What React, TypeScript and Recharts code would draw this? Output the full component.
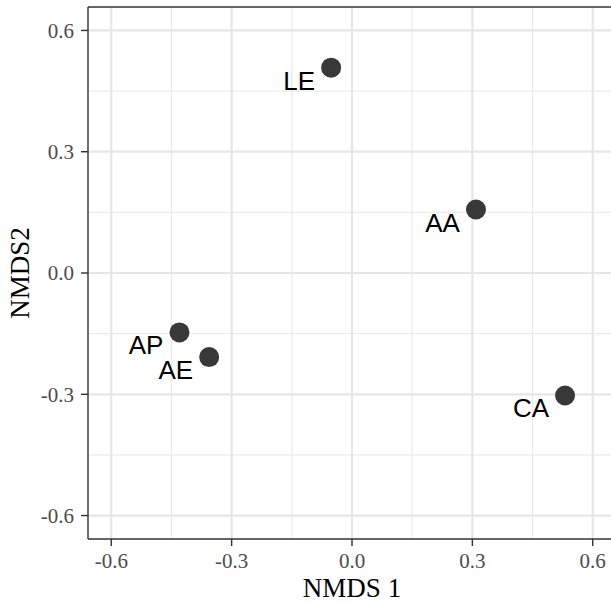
import React from 'react';
import { ScatterChart, Scatter, XAxis, YAxis, ReferenceLine } from 'recharts';

const sites = ['LE', 'AA', 'AP', 'AE', 'CA'];
const nmds1 = [-0.052, 0.309, -0.43, -0.356, 0.531];
const nmds2 = [0.508, 0.157, -0.147, -0.208, -0.303];
const xTicks = [-0.6, -0.3, 0, 0.3, 0.6];
const yTicks = [-0.6, -0.3, 0, 0.3, 0.6];
const minorBreaks = [-0.45, -0.15, 0.15, 0.45];
const limit = 0.658;

const data = sites.map((s, i) => ({ site: s, x: nmds1[i], y: nmds2[i] }));

const serif = '"Liberation Serif", "Times New Roman", serif';
const sans = '"Liberation Sans", Arial, sans-serif';

const PointShape = (props: any) => {
  const { cx, cy, payload } = props;
  return (
    <g>
      <circle cx={cx} cy={cy} r={10} fill="#383838" />
      <text x={cx - 16} y={cy + 22} textAnchor="end" fontFamily={sans} fontSize={26} fill="#000">
        {payload.site}
      </text>
    </g>
  );
};

const fmt = (v: number) => v.toFixed(1);

export default function App() {
  return (
    <div style={{ position: 'absolute', left: 0, top: 0, width: 611, height: 602, overflow: 'hidden', background: '#fff' }}>
      <ScatterChart width={611} height={602} margin={{ top: 7, right: -5, bottom: 0, left: 0 }} accessibilityLayer={false}>
        {minorBreaks.map((b) => (
          <ReferenceLine key={'vx' + b} x={b} stroke="#ececec" strokeWidth={1.3} />
        ))}
        {minorBreaks.map((b) => (
          <ReferenceLine key={'hy' + b} y={b} stroke="#ececec" strokeWidth={1.3} />
        ))}
        {xTicks.map((t) => (
          <ReferenceLine key={'mx' + t} x={t} stroke="#e6e6e6" strokeWidth={2.2} />
        ))}
        {yTicks.map((t) => (
          <ReferenceLine key={'my' + t} y={t} stroke="#e6e6e6" strokeWidth={2.2} />
        ))}
        <XAxis
          type="number"
          dataKey="x"
          domain={[-limit, limit]}
          allowDataOverflow
          ticks={xTicks}
          tickFormatter={fmt}
          height={63}
          axisLine={{ stroke: '#333', strokeWidth: 1.4 }}
          tickSize={7}
          tickMargin={7}
          tickLine={{ stroke: '#333', strokeWidth: 1.4 }}
          tick={{ fill: '#4d4d4d', fontSize: 21, fontFamily: serif }}
          label={{ value: 'NMDS 1', position: 'insideBottom', offset: 5, fill: '#000', fontSize: 27, fontFamily: serif }}
        />
        <YAxis
          type="number"
          dataKey="y"
          domain={[-limit, limit]}
          allowDataOverflow
          ticks={yTicks}
          tickFormatter={fmt}
          width={88}
          axisLine={{ stroke: '#333', strokeWidth: 1.4 }}
          tickSize={7}
          tickMargin={7}
          tickLine={{ stroke: '#333', strokeWidth: 1.4 }}
          tick={{ fill: '#4d4d4d', fontSize: 21, fontFamily: serif }}
          label={{
            content: (p: any) => {
              const vb = p.viewBox || { x: 0, y: 7, width: 88, height: 532 };
              const cy = vb.y + vb.height / 2;
              return (
                <text x={29} y={cy} transform={`rotate(-90, 29, ${cy})`} textAnchor="middle" fontFamily={serif} fontSize={27} fill="#000">
                  NMDS2
                </text>
              );
            },
          }}
        />
        <ReferenceLine y={limit} stroke="#333" strokeWidth={1.4} ifOverflow="visible" />
        <Scatter data={data} isAnimationActive={false} shape={PointShape} />
      </ScatterChart>
    </div>
  );
}
